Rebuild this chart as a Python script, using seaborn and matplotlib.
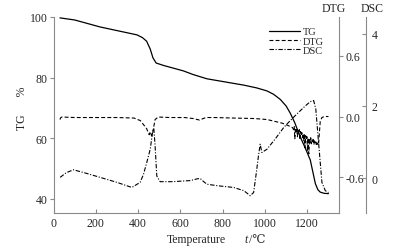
import matplotlib
matplotlib.use("Agg")
import matplotlib.pyplot as plt
import seaborn as sns

# TG curve (%)
tg_temp = [30, 100, 220, 300, 394, 420, 440, 457, 470, 485, 520, 614, 660, 725,
           800, 900, 960, 1009, 1040, 1072, 1100, 1119, 1140, 1166, 1190, 1214,
           1238, 1250, 1261, 1280, 1300]
tg_val = [99.7, 99.0, 96.7, 95.5, 94.1, 93.2, 92.0, 89.4, 86.5, 84.8, 84.0, 82.2,
          81.0, 79.6, 78.7, 77.5, 76.6, 75.6, 74.5, 72.8, 70.6, 68.3, 65.2, 60.5,
          56.8, 52.8, 45.0, 43.0, 42.2, 41.8, 41.7]

# DTG curve (noisy stretch read point by point)
dtg_temp = [30, 34, 40, 100, 200, 300, 380, 410, 440, 452, 458, 463, 468, 473, 480,
            495, 550, 620, 660, 690, 720, 760, 850, 950, 1010, 1050, 1080, 1110,
            1130, 1135, 1138, 1141, 1144, 1147, 1150, 1153, 1156, 1159, 1162, 1165,
            1168, 1171, 1174, 1177, 1180, 1183, 1186, 1189, 1192, 1195, 1198, 1201,
            1204, 1207, 1210, 1213, 1216, 1219, 1222, 1225, 1228, 1231, 1234, 1237,
            1240, 1243, 1246, 1249, 1253, 1261, 1269, 1280, 1290, 1300]
dtg_val = [-0.03, -0.01, -0.005, -0.01, -0.01, -0.01, -0.015, -0.04, -0.12, -0.18,
           -0.15, -0.19, -0.17, -0.11, -0.03, -0.005, -0.01, -0.01, -0.02, -0.035,
           -0.01, -0.01, -0.015, -0.02, -0.03, -0.05, -0.065, -0.09,
           -0.11, -0.13, -0.1, -0.22, -0.12, -0.15, -0.12, -0.2, -0.14, -0.17,
           -0.13, -0.23, -0.15, -0.19, -0.16, -0.21, -0.17, -0.24, -0.18, -0.31,
           -0.19, -0.23, -0.2, -0.34, -0.21, -0.37, -0.22, -0.26, -0.21, -0.27,
           -0.23, -0.25, -0.22, -0.28, -0.24, -0.26, -0.25, -0.29, -0.26, -0.28,
           -0.275, -0.05, -0.01, 0.0, 0.0, 0.0]

# DSC curve
dsc_temp = [31, 60, 94, 150, 220, 300, 370, 409, 425, 441, 457, 464, 469, 474,
            480, 488, 504, 560, 646, 680, 693, 710, 725, 772, 851, 900, 930, 946,
            960, 969, 977, 985, 1009, 1050, 1088, 1120, 1151, 1190, 1214, 1230,
            1240, 1253, 1269, 1285, 1300]
dsc_val = [0.02, 0.15, 0.23, 0.14, 0.02, -0.12, -0.26, -0.12, 0.1, 0.44, 0.8,
           1.1, 1.3, 1.38, 0.9, 0.06, -0.1, -0.1, -0.07, -0.02, -0.01, -0.1,
           -0.17, -0.21, -0.26, -0.35, -0.49, -0.4, 0.2, 0.62, 0.94, 0.71, 0.8,
           1.1, 1.4, 1.6, 1.78, 2.0, 2.12, 2.15, 1.92, 1.0, -0.12, -0.35, -0.4]

x_ticks = [0, 200, 400, 600, 800, 1000, 1200]
tg_ticks = [40, 60, 80, 100]
dtg_ticks = [-0.6, 0.0, 0.6]
dtg_labels = ["-0.6", "0.0", "0.6"]
dsc_ticks = [0, 2, 4]

sns.set_style("ticks")
plt.rcParams["font.family"] = ["Liberation Serif", "DejaVu Serif"]
plt.rcParams["font.size"] = 8.5
grey = "#8a8a8a"

fig = plt.figure(figsize=(3.97, 2.53), dpi=100)
ax = fig.add_axes([0.135, 0.154, 0.719, 0.775])
ax_dtg = ax.twinx()
ax_dsc = ax.twinx()

l1 = sns.lineplot(x=tg_temp, y=tg_val, ax=ax, color="black", lw=0.9).lines[-1]
l2 = sns.lineplot(x=dtg_temp, y=dtg_val, ax=ax_dtg, color="black", lw=0.8).lines[-1]
l2.set_dashes([3.5, 2])
l3 = sns.lineplot(x=dsc_temp, y=dsc_val, ax=ax_dsc, color="black", lw=0.8).lines[-1]
l3.set_dashes([4, 1.5, 1, 1.5])

ax.set_xlim(0, 1350)
ax.set_ylim(35.3, 100)
ax.set_xticks(x_ticks)
ax.set_yticks(tg_ticks)
ax_dtg.set_ylim(-0.955, 0.985)
ax_dtg.set_yticks(dtg_ticks)
ax_dtg.set_yticklabels(dtg_labels)
ax_dsc.set_ylim(-0.97, 4.47)
ax_dsc.set_yticks(dsc_ticks)

for a in (ax, ax_dtg, ax_dsc):
    for s in a.spines.values():
        s.set_color(grey)
        s.set_linewidth(0.8)
    a.spines["top"].set_visible(False)
for a in (ax_dtg, ax_dsc):
    a.spines["left"].set_visible(False)
    a.spines["bottom"].set_visible(False)
ax.spines["right"].set_visible(False)
ax_dsc.spines["right"].set_position(("axes", 1.0946))

ax.tick_params(axis="y", direction="out", length=3, color=grey, pad=1.5)
ax.tick_params(axis="x", direction="in", length=3, color=grey, pad=3)
ax_dtg.tick_params(axis="y", direction="out", length=3, color=grey, pad=1.5)
ax_dsc.tick_params(axis="y", direction="in", length=3, color=grey, pad=4)

ax_dsc.legend([l1, l2, l3], ["TG", "DTG", "DSC"], loc="upper left",
              bbox_to_anchor=(0.735, 0.975), frameon=False, fontsize=7.5,
              handlelength=3.0, handletextpad=0.3, labelspacing=0.0,
              borderpad=0.0)

fig.text(22 / 397, 1 - 108 / 253, "TG      %", rotation=90, ha="center", va="center")
fig.text(167 / 397, 1 - 240 / 253, "Temperature", ha="left", va="center")
fig.text(244 / 397, 1 - 240 / 253, "t", style="italic", ha="left", va="center")
fig.text(249 / 397, 1 - 240 / 253, "/\u2103", ha="left", va="center")
fig.text(334 / 397, 1 - 9 / 253, "DTG", ha="center", va="center")
fig.text(372 / 397, 1 - 9 / 253, "DSC", ha="center", va="center")

fig.savefig("out.png", dpi=100)
